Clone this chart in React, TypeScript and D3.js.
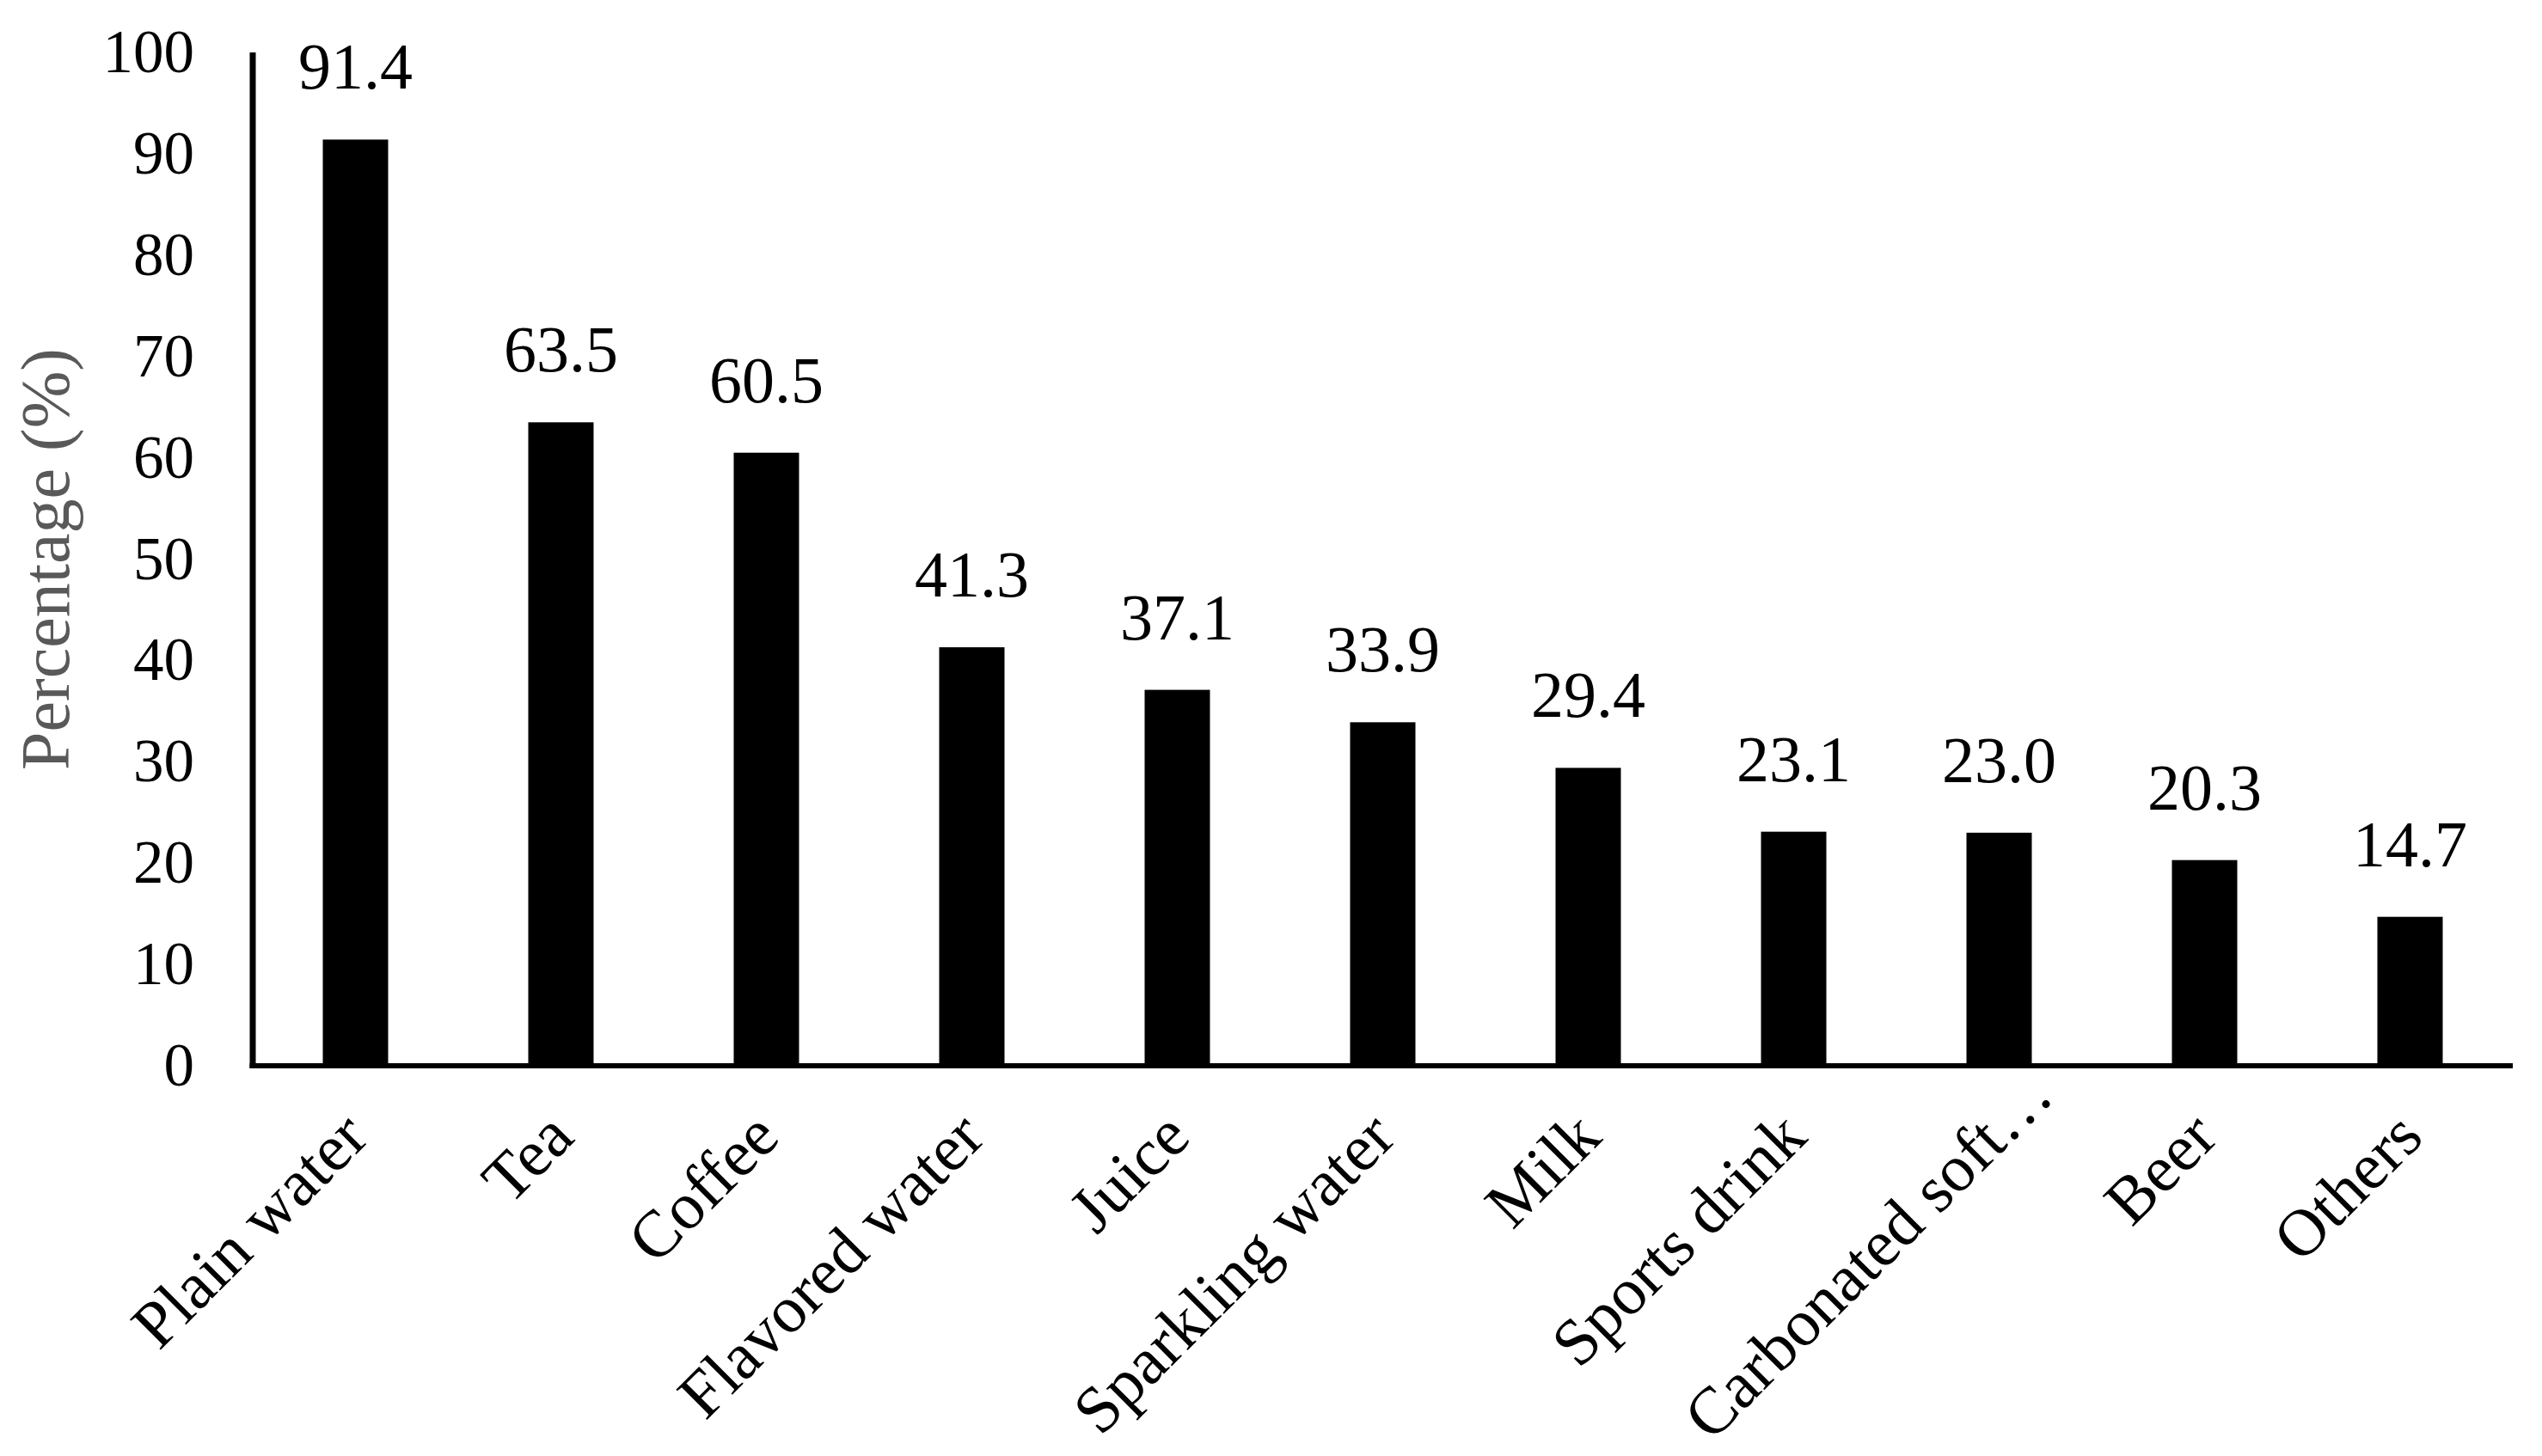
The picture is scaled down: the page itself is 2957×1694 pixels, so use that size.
import React from "react";
import * as d3 from "d3";

const categories: string[] = [
  "Plain water",
  "Tea",
  "Coffee",
  "Flavored water",
  "Juice",
  "Sparkling water",
  "Milk",
  "Sports drink",
  "Carbonated soft…",
  "Beer",
  "Others",
];
const percentages: number[] = [91.4, 63.5, 60.5, 41.3, 37.1, 33.9, 29.4, 23.1, 23.0, 20.3, 14.7];
const yTicks: number[] = [0, 10, 20, 30, 40, 50, 60, 70, 80, 90, 100];
const yTitle = "Percentage (%)";

const W = 2957;
const H = 1694;
const FONT = "'Liberation Serif', 'Times New Roman', serif";

export default function App() {
  const x0 = 294;
  const x1 = 2923;
  const yBase = 1240;
  const yTop = 61;

  const x = d3.scaleBand<string>().domain(categories).range([x0, x1]).paddingInner(0.682).paddingOuter(0.341);
  const y = d3.scaleLinear().domain([0, 100]).range([yBase, yTop]);

  return (
    <svg
      width={W}
      height={H}
      viewBox={`0 0 ${W} ${H}`}
      style={{ position: "absolute", left: 0, top: 0, background: "#fff" }}
      fontFamily={FONT}
    >
      <rect x={0} y={0} width={W} height={H} fill="#fff" />
      {/* bars */}
      {categories.map((c, i) => (
        <rect
          key={c}
          x={x(c)!}
          y={y(percentages[i])}
          width={x.bandwidth()}
          height={yBase - y(percentages[i])}
          fill="#000"
        />
      ))}
      {/* data labels */}
      {categories.map((c, i) => (
        <text
          key={"l" + c}
          x={x(c)! + x.bandwidth() / 2}
          y={y(percentages[i]) - 59}
          textAnchor="middle"
          fontSize={76}
          fill="#000"
        >
          {percentages[i].toFixed(1)}
        </text>
      ))}
      {/* axes */}
      <line x1={x0} x2={x0} y1={yTop} y2={yBase + 3} stroke="#000" strokeWidth={7} />
      <line x1={x0 - 3.5} x2={x1} y1={yBase} y2={yBase} stroke="#000" strokeWidth={6} />
      {/* y ticks */}
      {yTicks.map((t) => (
        <text key={"t" + t} x={226} y={y(t) + 23} textAnchor="end" fontSize={71} fill="#000">
          {t}
        </text>
      ))}
      {/* y title */}
      <text
        transform={`translate(80, ${(yTop + yBase) / 2}) rotate(-90)`}
        textAnchor="middle"
        fontSize={80}
        fill="#595959"
      >
        {yTitle}
      </text>
      {/* x labels */}
      {categories.map((c) => {
        const cx = x(c)! + x.bandwidth() / 2;
        const extra = c.endsWith("…") ? 48 : 0;
        const ax = cx + 18 + extra;
        const ay = yBase + 86 - extra;
        return (
          <text
            key={"x" + c}
            transform={`translate(${ax}, ${ay}) rotate(-45)`}
            textAnchor="end"
            fontSize={77}
            fill="#000"
          >
            {c}
          </text>
        );
      })}
    </svg>
  );
}
